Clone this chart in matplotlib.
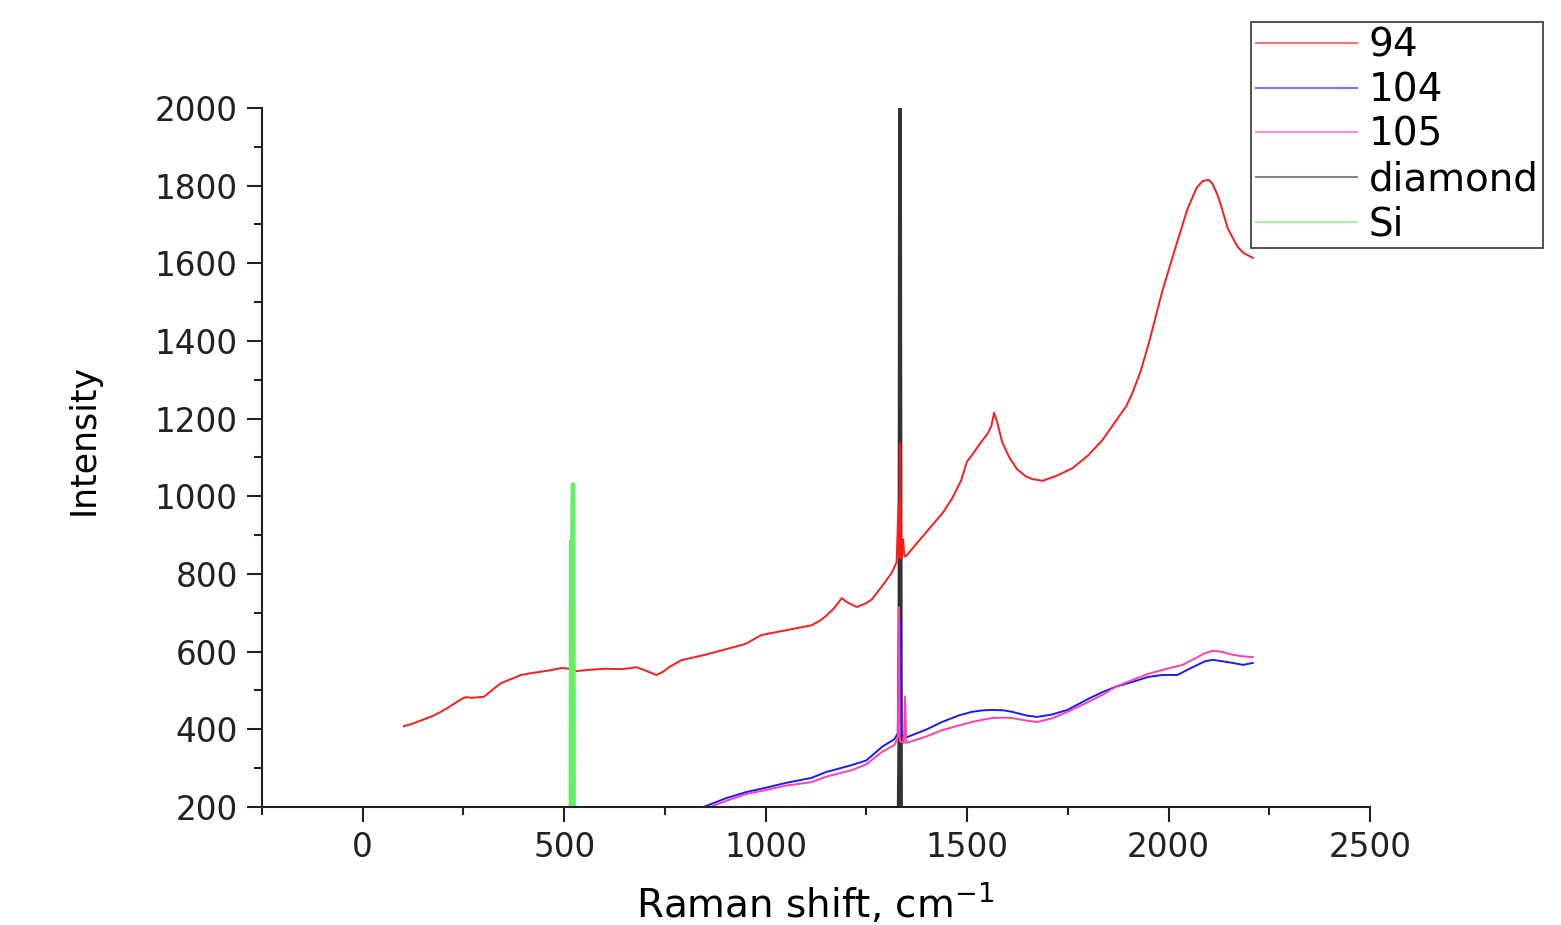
import matplotlib.pyplot as plt
from matplotlib.ticker import MultipleLocator

plt.rcParams['font.family'] = ['DejaVu Sans']

# sample 94
red_x = [102, 125, 150, 175, 194, 215, 230, 245, 256, 270, 280, 301, 320, 343, 370, 393,
         420, 440, 470, 493, 515, 530, 560, 600, 642, 660, 679, 700, 729, 745, 760, 791,
         850, 915, 950, 990, 1050, 1114, 1135, 1150, 1170, 1189, 1201, 1226, 1250, 1264,
         1290, 1313, 1325, 1330, 1332, 1334, 1336, 1338, 1341, 1344, 1347, 1351, 1380,
         1413, 1440, 1463, 1485, 1500, 1512, 1535, 1550, 1560, 1567, 1575, 1587, 1605,
         1624, 1645, 1660, 1687, 1720, 1761, 1800, 1836, 1870, 1895, 1910, 1930, 1950,
         1985, 2020, 2047, 2070, 2085, 2100, 2109, 2120, 2130, 2147, 2170, 2184, 2209]
red_y = [408, 415, 425, 435, 445, 458, 468, 478, 483, 481, 482, 484, 500, 519, 530, 540,
         545, 548, 553, 558, 556, 550, 553, 556, 555, 557, 560, 552, 540, 548, 560, 578,
         592, 610, 620, 643, 655, 668, 680, 692, 712, 738, 728, 715, 725, 735,
         770, 803, 830, 980, 840, 1135, 850, 840, 890, 850, 845, 849, 885,
         925, 958, 995, 1040, 1090, 1106, 1140, 1160, 1180, 1215, 1190, 1140, 1100,
         1070, 1052, 1045, 1040, 1052, 1072, 1105, 1145, 1195, 1232, 1265, 1320, 1390,
         1530, 1650, 1740, 1795, 1812, 1815, 1805, 1780, 1750, 1690, 1645, 1628, 1614]

# sample 104
blue_x = [800, 841, 900, 950, 1002, 1050, 1114, 1150, 1214, 1250, 1289, 1320, 1328, 1331,
          1333, 1335, 1337, 1351, 1400, 1438, 1480, 1512, 1540, 1562, 1590, 1612, 1650,
          1674, 1710, 1749, 1800, 1836, 1870, 1910, 1950, 1985, 2022, 2050, 2072, 2090,
          2109, 2135, 2159, 2185, 2209]
blue_y = [170, 198, 222, 238, 250, 262, 275, 290, 308, 320, 355, 375, 390, 680,
          540, 680, 385, 380, 400, 419, 436, 445, 449, 450, 449, 445, 435,
          432, 438, 450, 478, 496, 510, 522, 535, 540, 540, 555, 566, 575,
          579, 575, 571, 566, 571]

# sample 105
pink_x = [800, 841, 900, 950, 1002, 1050, 1114, 1150, 1214, 1250, 1289, 1320, 1328, 1331,
          1333, 1343, 1346, 1349, 1400, 1438, 1480, 1512, 1540, 1562, 1590, 1612, 1650,
          1674, 1710, 1749, 1800, 1836, 1870, 1910, 1950, 1985, 2035, 2072, 2090, 2109,
          2130, 2159, 2185, 2209]
pink_y = [165, 192, 215, 233, 244, 255, 264, 278, 295, 310, 342, 360, 380, 715,
          370, 365, 485, 365, 382, 398, 410, 419, 425, 429, 430, 429, 422,
          419, 428, 445, 470, 489, 510, 527, 543, 553, 566, 586, 596, 602,
          600, 592, 588, 586]

# reference spectra
dia_x = [1200, 1329, 1331, 1332, 1333, 1334, 1335, 1337, 1500]
dia_y = [150, 160, 400, 1500, 2600, 2600, 1500, 160, 150]

si_x = [480, 516, 517, 520, 521, 523, 524, 560]
si_y = [150, 160, 885, 885, 1030, 1030, 160, 150]

fig = plt.figure(figsize=(15.61, 9.25), dpi=100)
ax = fig.add_axes([262 / 1561, 1 - 807 / 925, (1370 - 262) / 1561, (807 - 108) / 925])

l_dia, = ax.plot(dia_x, dia_y, color='#333333', lw=2.2, label='diamond')
l94, = ax.plot(red_x, red_y, color='#ff1a1a', lw=1.4, label='94')
l104, = ax.plot(blue_x, blue_y, color='#1a1aff', lw=1.4, label='104')
l105, = ax.plot(pink_x, pink_y, color='#ff3fae', lw=1.4, label='105')
l_si, = ax.plot(si_x, si_y, color='#66ee66', lw=3, label='Si')

ax.set_xlim(-250, 2500)
ax.set_ylim(200, 2000)
ax.xaxis.set_major_locator(MultipleLocator(500))
ax.xaxis.set_minor_locator(MultipleLocator(250))
ax.yaxis.set_major_locator(MultipleLocator(200))
ax.yaxis.set_minor_locator(MultipleLocator(100))
ax.spines['top'].set_visible(False)
ax.spines['right'].set_visible(False)
for s in ('left', 'bottom'):
    ax.spines[s].set_linewidth(1.5)
    ax.spines[s].set_color('#222222')
ax.tick_params(which='major', direction='out', length=10.5, width=1.5, labelsize=23.5,
               colors='#222222', pad=7)
ax.tick_params(which='minor', direction='out', length=5.5, width=1.5, colors='#222222')

ax.set_xlabel('Raman shift, cm$^{-1}$', fontsize=28)
ax.xaxis.set_label_coords((815 - 262) / (1370 - 262), -(903 - 807) / (807 - 108))
ax.xaxis.label.set_va('center')
ax.set_ylabel('Intensity', fontsize=25)
ax.yaxis.set_label_coords(-(262 - 84) / (1370 - 262), (807 - 439) / (807 - 108))
ax.yaxis.label.set_va('center')

leg = ax.legend(handles=[l94, l104, l105, l_dia, l_si], loc='upper left',
                bbox_to_anchor=(1251 / 1561, 1 - 22 / 925), bbox_transform=fig.transFigure,
                fontsize=28, handlelength=2.6, handletextpad=0.3, borderpad=0.12,
                labelspacing=0.17, borderaxespad=0, fancybox=False, framealpha=1)
leg.get_frame().set_edgecolor('#444444')
leg.get_frame().set_linewidth(1.3)
for h in leg.get_lines():
    h.set_linewidth(1.5)
    h.set_alpha(0.6)

fig.savefig('out.png', dpi=100)
